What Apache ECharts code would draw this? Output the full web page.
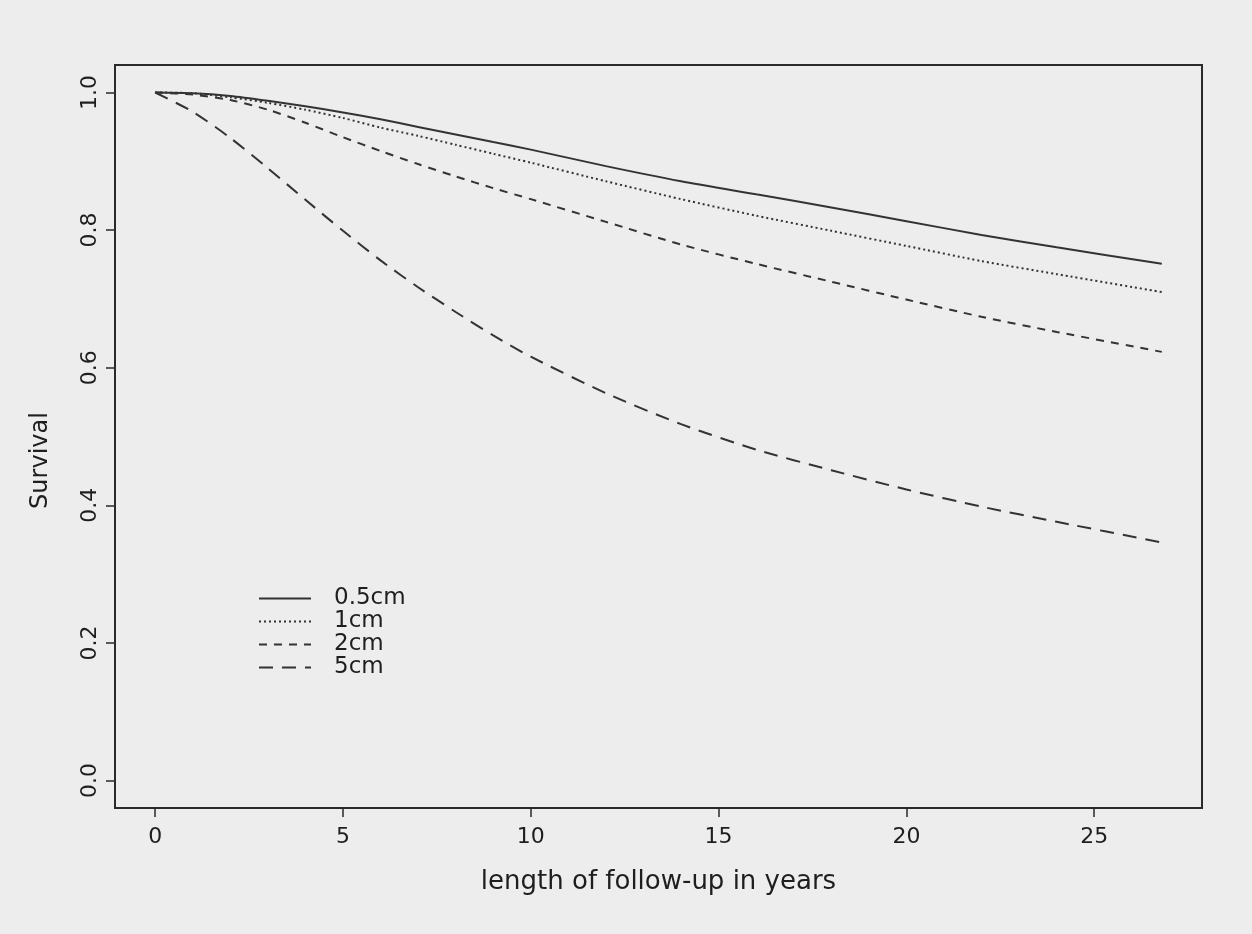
<!DOCTYPE html>
<html>
<head>
<meta charset="utf-8">
<script src="https://cdn.jsdelivr.net/npm/echarts@6/dist/echarts.min.js"></script>
<style>
  html, body { margin: 0; padding: 0; background: #ededed; }
  #chart { width: 1252px; height: 934px; }
</style>
</head>
<body>
<div id="chart"></div>
<script>
// follow-up time (years)
var years = [0, 1, 2, 3, 4, 5, 6, 7, 8, 9, 10, 12, 14, 16, 18, 20, 22, 24, 26.8];
// survival curves by tumour size
var s05 = [1.0, 0.999, 0.995, 0.988, 0.980, 0.971, 0.961, 0.950, 0.939, 0.928, 0.917, 0.893, 0.871, 0.852, 0.833, 0.813, 0.793, 0.775, 0.751];
var s1 = [1.0, 0.999, 0.993, 0.985, 0.975, 0.963, 0.949, 0.937, 0.924, 0.911, 0.898, 0.871, 0.845, 0.821, 0.799, 0.777, 0.755, 0.736, 0.710];
var s2 = [1.0, 0.997, 0.989, 0.975, 0.956, 0.935, 0.915, 0.896, 0.878, 0.861, 0.845, 0.812, 0.779, 0.751, 0.725, 0.699, 0.674, 0.652, 0.623];
var s5 = [1.0, 0.972, 0.934, 0.890, 0.844, 0.799, 0.756, 0.717, 0.681, 0.647, 0.616, 0.563, 0.518, 0.481, 0.451, 0.423, 0.398, 0.376, 0.346];
var seriesNames = ["0.5cm", "1cm", "2cm", "5cm"];
var xTicks = [0, 5, 10, 15, 20, 25];
var yTicks = [0, 0.2, 0.4, 0.6, 0.8, 1.0];

var font = "DejaVu Sans";
var ink = "#1e1e1e";
var lineCol = "#333333";

function pairs(vals) {
  return years.map(function (t, i) { return [t, vals[i]]; });
}

function mkLine(name, vals, type) {
  return {
    name: name,
    type: "line",
    data: pairs(vals),
    smooth: 0.25,
    symbol: "none",
    itemStyle: { color: lineCol },
    lineStyle: { color: lineCol, width: 2, type: type }
  };
}

var chart = echarts.init(document.getElementById("chart"));
chart.setOption({
  backgroundColor: "#ededed",
  animation: false,
  grid: {
    left: 115, top: 65, right: 50, bottom: 126,
    show: true, borderColor: "#2a2a2a", borderWidth: 2,
    backgroundColor: "transparent"
  },
  legend: {
    orient: "vertical",
    left: 253,
    top: 582,
    itemWidth: 52,
    itemHeight: 14,
    itemGap: 0,
    itemStyle: { opacity: 0 },
    data: seriesNames,
    textStyle: {
      color: ink, fontFamily: font, fontSize: 23,
      lineHeight: 23, padding: [0, 0, 0, 18]
    }
  },
  xAxis: {
    type: "value",
    min: -1.07,
    max: 27.87,
    name: "length of follow-up in years",
    nameLocation: "middle",
    nameGap: 61,
    nameTextStyle: { color: ink, fontFamily: font, fontSize: 26 },
    axisLine: { show: false, onZero: false },
    axisTick: {
      show: true, inside: false, length: 9,
      customValues: xTicks,
      lineStyle: { color: "#2a2a2a", width: 1.5 }
    },
    axisLabel: {
      customValues: xTicks,
      margin: 18,
      color: ink, fontFamily: font, fontSize: 22
    },
    splitLine: { show: false }
  },
  yAxis: {
    type: "value",
    min: -0.04,
    max: 1.04,
    name: "Survival",
    nameLocation: "middle",
    nameGap: 62,
    nameTextStyle: {
      color: ink, fontFamily: font, fontSize: 24,
      padding: [0, 48, 0, 0]
    },
    axisLine: { show: false, onZero: false },
    axisTick: {
      show: true, inside: false, length: 9,
      customValues: yTicks,
      lineStyle: { color: "#2a2a2a", width: 1.5 }
    },
    axisLabel: {
      customValues: yTicks,
      rotate: 90,
      margin: 14,
      color: ink, fontFamily: font, fontSize: 22,
      formatter: function (v) { return v.toFixed(1); }
    },
    splitLine: { show: false }
  },
  series: [
    mkLine(seriesNames[0], s05, "solid"),
    mkLine(seriesNames[1], s1, [2, 3]),
    mkLine(seriesNames[2], s2, [8, 7]),
    mkLine(seriesNames[3], s5, [14, 9])
  ]
});
</script>
</body>
</html>
